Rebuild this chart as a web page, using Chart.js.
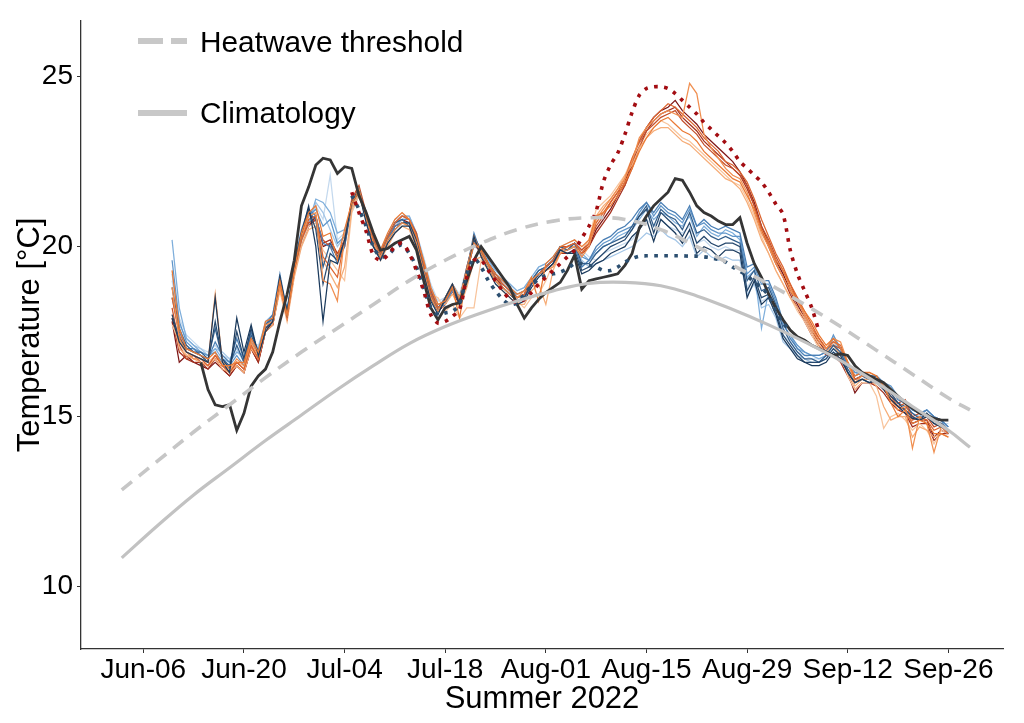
<!DOCTYPE html>
<html>
<head>
<meta charset="utf-8">
<script src="https://cdn.jsdelivr.net/npm/chart.js@4.4.1/dist/chart.umd.min.js"></script>
<style>
html,body{margin:0;padding:0;background:#fff;}
#wrap{width:1024px;height:723px;position:relative;}
</style>
</head>
<body>
<div id="wrap"><canvas id="c" width="1024" height="723"></canvas></div>
<script>
// ---- axis ticks (x = days since Jun-06, 2022) ----
const tickDays = [0, 14, 28, 42, 56, 70, 84, 98, 112];
const tickLabels = ['Jun-06', 'Jun-20', 'Jul-04', 'Jul-18', 'Aug-01', 'Aug-15', 'Aug-29', 'Sep-12', 'Sep-26'];
const yTicks = [10, 15, 20, 25];

// ---- climatology (solid grey) ----
const climDays = [-3, 2, 7, 12, 17, 22, 27, 32, 37, 42, 47, 52, 57, 62, 67, 72, 77, 82, 87, 92, 97, 102, 107, 112, 115];
const climVals = [10.85, 11.8, 12.7, 13.5, 14.3, 15.05, 15.8, 16.5, 17.15, 17.65, 18.05, 18.4, 18.7, 18.92, 18.95, 18.85, 18.55, 18.15, 17.7, 17.2, 16.65, 16.0, 15.3, 14.6, 14.1];

// ---- heatwave threshold (dashed grey) ----
const threshDays = [-3, 2, 7, 12, 17, 22, 27, 32, 37, 42, 47, 52, 57, 62, 67, 72, 77, 82, 87, 92, 97, 102, 107, 112, 115];
const threshVals = [12.85, 13.7, 14.55, 15.35, 16.15, 16.9, 17.6, 18.3, 19.0, 19.6, 20.1, 20.5, 20.75, 20.85, 20.8, 20.5, 20.0, 19.45, 18.9, 18.3, 17.65, 16.95, 16.25, 15.55, 15.2];

// ---- observations (thick dark line), daily from day 8 ----
const obsStart = 8;
const obsVals = [
 16.6, 15.8, 15.35, 15.3, 15.35, 14.6, 15.1, 15.9, 16.2, 16.4,
 16.9, 17.8, 18.6, 19.6, 21.2, 21.75, 22.4, 22.6, 22.55, 22.15,
 22.35, 22.3, 21.5, 21.0, 20.4, 19.9, 19.95, 20.1, 20.2, 20.3,
 19.9, 19.0, 18.2, 17.85, 18.2, 18.3, 18.35, 19.0, 19.6, 20.0,
 19.7, 19.4, 19.1, 18.8, 18.3, 17.9, 18.2, 18.45, 18.65, 18.8,
 18.95, 19.3, 19.75, 18.75, 19.0, 19.05, 19.1, 19.15, 19.2, 19.45,
 19.8, 20.55, 20.9, 21.2, 21.4, 21.6, 22.0, 21.95, 21.6, 21.2,
 21.0, 20.9, 20.75, 20.65, 20.65, 20.85, 20.1, 19.5, 19.1, 18.6,
 18.2, 17.85, 17.55, 17.35, 17.25, 17.1, 17.0, 16.9, 16.8, 16.85,
 16.8, 16.5, 16.3, 16.2, 16.1, 16.0, 15.8, 15.6, 15.4, 15.25,
 15.1, 15.05, 14.95, 14.9, 14.9
];

// ---- dotted means, daily from day 29 ----
const redDotStart = 29;
const redDotVals = [
 21.6, 21.0, 20.45, 19.75, 19.6, 19.75, 20.0, 20.1, 19.8, 19.3,
 18.7, 18.0, 17.75, 17.8, 17.95, 18.15, 19.1, 19.6, 19.6, 19.3,
 19.0, 18.7, 18.45, 18.35, 18.45, 18.65, 18.9, 19.1, 19.3, 19.5,
 19.7, 19.9, 20.25, 20.6, 21.05, 21.9, 22.4, 22.75, 23.3, 23.95,
 24.45, 24.65, 24.7, 24.7, 24.65, 24.5, 24.3, 24.1, 23.9, 23.65,
 23.45, 23.25, 23.05, 22.8, 22.5, 22.3, 22.1, 21.9, 21.6, 21.25,
 20.95, 19.9, 19.2, 18.7, 18.2, 17.5
];
const blueDotStart = 29;
const blueDotVals = [
 21.5, 21.1, 20.6, 20.0, 19.7, 19.75, 19.95, 20.05, 19.8, 19.4,
 18.8, 18.2, 18.0, 18.05, 18.1, 18.3, 19.2, 19.65, 19.4, 19.0,
 18.7, 18.45, 18.3, 18.35, 18.6, 18.85, 19.05, 19.15, 19.2, 19.25,
 19.35, 19.5, 19.5, 19.45, 19.4, 19.3, 19.3, 19.4, 19.55, 19.65,
 19.72, 19.73, 19.73, 19.73, 19.73, 19.73, 19.73, 19.72, 19.72, 19.7,
 19.67, 19.62, 19.55, 19.4, 19.28, 19.15, 18.95, 18.8, 18.55, 18.1,
 17.75, 17.55
];

// ---- ensemble members, daily from day 4 ----
const memberStart = 4;
const blue1 = [
 17.9, 17.2, 16.9, 16.8, 16.7, 16.6, 18.5, 16.6, 16.3, 17.9,
 16.9, 17.7, 16.8, 17.5, 17.8, 19.1, 18.1, 19.4, 20.4, 21.2,
 20.0, 17.8, 19.6, 19.5, 20.2, 21.3, 21.6, 20.7, 20.0, 19.6,
 20.1, 20.4, 20.6, 20.6, 20.0, 19.2, 18.4, 18.0, 18.5, 18.9,
 18.3, 19.1, 20.3, 19.7, 19.3, 18.9, 18.7, 18.5, 18.3, 18.4,
 18.8, 19.1, 19.3, 19.5, 19.9, 19.8, 19.8, 19.2, 19.3, 19.5,
 19.6, 19.8, 19.9, 20.0, 20.3, 20.5, 20.8, 20.15, 20.8, 20.6,
 20.4, 20.1, 20.5, 19.8, 20.0, 19.9, 19.7, 19.9, 19.9, 19.8,
 18.5, 19.0, 18.3, 18.5, 18.0, 17.3, 17.0, 16.7, 16.6, 16.5,
 16.5, 16.6, 16.9, 16.7, 16.3, 16.0, 16.1, 16.0, 16.05, 15.8,
 15.5, 15.3, 15.1, 14.95, 14.9, 15.0, 14.8, 14.7, 14.6
];
const blue2 = [
 18.8, 17.6, 17.1, 16.9, 16.9, 16.7, 17.6, 16.7, 16.5, 17.1,
 16.6, 17.4, 16.9, 17.7, 17.9, 19.0, 18.0, 19.5, 20.4, 21.0,
 20.8, 19.4, 20.1, 19.7, 20.1, 21.3, 21.7, 20.9, 20.2, 19.8,
 20.3, 20.7, 20.8, 20.6, 20.3, 19.5, 18.6, 18.2, 18.5, 18.9,
 18.5, 19.3, 20.3, 19.9, 19.5, 19.2, 19.0, 18.8, 18.5, 18.6,
 19.0, 19.3, 19.4, 19.6, 20.0, 19.9, 20.1, 19.5, 19.5, 19.8,
 20.0, 20.1, 20.2, 20.3, 20.6, 20.9, 21.2, 20.6, 21.1, 20.9,
 20.8, 20.5, 21.0, 20.4, 20.5, 20.3, 20.2, 20.3, 20.2, 20.1,
 19.0, 19.3, 18.7, 18.8, 18.3, 17.6, 17.2, 16.9, 16.7, 16.7,
 16.6, 16.8, 17.1, 16.9, 16.4, 16.1, 16.2, 16.1, 16.2, 15.9,
 15.7, 15.4, 15.3, 15.1, 14.95, 15.1, 14.9, 14.8, 14.6
];
const blue3 = [
 19.6, 17.8, 17.2, 17.0, 16.9, 16.8, 16.9, 16.6, 16.5, 16.8,
 16.5, 17.2, 16.9, 17.6, 17.9, 19.0, 18.1, 19.4, 20.3, 20.9,
 21.1, 20.6, 20.8, 20.1, 20.3, 21.2, 21.6, 20.8, 20.2, 19.8,
 20.2, 20.7, 20.8, 20.8, 20.3, 19.5, 18.7, 18.2, 18.3, 18.7,
 18.4, 19.4, 20.2, 19.9, 19.5, 19.2, 19.0, 18.8, 18.6, 18.7,
 19.0, 19.3, 19.4, 19.6, 20.0, 20.0, 20.1, 19.7, 19.6, 19.9,
 20.1, 20.2, 20.4, 20.5, 20.6, 21.0, 21.3, 20.9, 21.2, 21.0,
 20.9, 20.7, 21.1, 20.6, 20.7, 20.5, 20.4, 20.4, 20.3, 20.3,
 19.2, 19.4, 18.9, 18.9, 18.4, 17.7, 17.4, 17.1, 16.9, 16.8,
 16.8, 16.9, 17.4, 17.0, 16.6, 16.3, 16.3, 16.2, 16.2, 16.0,
 15.9, 15.6, 15.4, 15.2, 15.1, 15.2, 15.0, 14.9, 14.5
];
const blue4 = [
 20.2, 18.2, 17.3, 17.1, 16.9, 16.8, 17.0, 16.7, 16.6, 16.9,
 16.8, 17.3, 17.0, 17.8, 18.0, 18.9, 18.2, 19.3, 20.1, 20.7,
 21.4, 21.3, 21.0, 20.4, 20.5, 21.1, 21.5, 20.9, 20.3, 19.9,
 20.3, 20.7, 20.9, 20.9, 20.4, 19.6, 18.8, 18.3, 18.4, 18.8,
 18.5, 19.3, 20.1, 19.9, 19.6, 19.3, 19.1, 18.9, 18.7, 18.8,
 19.1, 19.4, 19.5, 19.7, 20.0, 20.0, 20.1, 19.8, 19.6, 19.8,
 20.0, 20.1, 20.3, 20.4, 20.5, 20.8, 21.1, 20.8, 21.0, 20.9,
 20.7, 20.6, 20.9, 20.3, 20.6, 20.4, 20.3, 20.5, 20.4, 20.2,
 19.1, 19.3, 17.6, 18.7, 18.1, 17.5, 17.4, 17.0, 16.9, 16.8,
 16.7, 16.8, 17.2, 17.0, 16.5, 16.3, 16.2, 16.2, 16.1, 15.9,
 15.8, 15.6, 15.4, 15.1, 15.0, 15.2, 15.0, 14.9, 14.7
];
const blue5 = [
 19.0, 17.9, 17.4, 17.2, 17.0, 16.9, 17.1, 16.8, 16.7, 16.9,
 16.7, 17.2, 17.1, 17.7, 17.9, 18.8, 18.2, 19.2, 20.0, 20.6,
 21.2, 20.8, 22.1, 20.2, 20.4, 21.0, 21.5, 21.0, 20.3, 19.9,
 20.4, 20.8, 20.9, 20.9, 20.4, 19.7, 18.9, 18.4, 18.5, 18.9,
 18.6, 19.4, 20.2, 20.0, 19.6, 19.3, 19.1, 18.9, 18.7, 18.8,
 19.1, 19.4, 19.5, 19.7, 20.0, 20.1, 20.2, 19.9, 19.7, 19.6,
 19.8, 19.9, 20.0, 20.1, 20.2, 20.5, 20.8, 20.6, 20.8, 20.6,
 20.5, 20.4, 20.6, 20.1, 20.2, 20.0, 19.9, 20.0, 19.9, 19.9,
 18.8, 19.1, 18.4, 18.5, 18.0, 17.4, 17.2, 16.9, 16.8, 16.7,
 16.7, 16.8, 17.0, 16.9, 16.4, 16.1, 16.1, 16.1, 16.1, 15.8,
 15.6, 15.4, 15.2, 15.0, 14.9, 15.1, 14.9, 14.8, 14.8
];
const blue6 = [
 18.5, 17.5, 17.0, 17.0, 16.8, 16.7, 17.2, 16.8, 16.6, 17.3,
 16.7, 17.5, 16.9, 17.7, 18.0, 19.2, 18.1, 19.5, 20.5, 21.1,
 20.9, 20.1, 20.0, 19.5, 20.0, 21.2, 21.7, 20.8, 20.1, 19.7,
 20.2, 20.6, 20.7, 20.7, 20.1, 19.3, 18.6, 18.1, 18.4, 18.8,
 18.4, 19.3, 20.4, 19.8, 19.4, 19.1, 18.9, 18.7, 18.4, 18.5,
 18.9, 19.2, 19.4, 19.6, 19.9, 19.9, 20.0, 19.4, 19.6, 20.0,
 20.2, 20.3, 20.5, 20.6, 20.8, 21.1, 21.3, 21.0, 21.3, 21.1,
 21.0, 20.8, 21.2, 20.6, 20.8, 20.6, 20.5, 20.6, 20.5, 20.4,
 19.4, 19.5, 19.0, 19.0, 18.5, 17.8, 17.3, 17.0, 16.8, 16.8,
 16.8, 16.9, 17.3, 17.0, 16.5, 16.2, 16.3, 16.2, 16.2, 16.0,
 15.8, 15.5, 15.4, 15.2, 15.1, 15.2, 15.0, 14.9, 14.7
];
const blue7 = [
 19.2, 17.7, 17.3, 17.1, 17.0, 16.8, 17.0, 16.9, 16.7, 17.0,
 16.6, 17.3, 17.0, 17.6, 17.9, 18.8, 18.1, 19.3, 20.1, 20.6,
 21.3, 21.0, 20.5, 20.0, 20.3, 21.1, 21.6, 20.9, 20.3, 19.8,
 20.3, 20.6, 20.8, 20.8, 20.3, 19.5, 18.8, 18.3, 18.4, 18.8,
 18.5, 19.3, 20.0, 19.9, 19.6, 19.2, 19.0, 18.8, 18.6, 18.7,
 19.0, 19.3, 19.4, 19.6, 19.9, 20.0, 20.1, 19.6, 19.4, 19.5,
 19.6, 19.7, 19.8, 19.9, 20.0, 20.2, 20.4, 20.3, 20.5, 20.3,
 20.2, 20.0, 20.3, 19.7, 19.9, 19.7, 19.6, 19.7, 19.6, 19.6,
 18.6, 18.9, 18.2, 18.3, 17.9, 17.2, 17.0, 16.8, 16.7, 16.6,
 16.6, 16.7, 16.9, 16.8, 16.3, 16.0, 16.1, 16.1, 16.0, 15.8,
 15.6, 15.4, 15.2, 15.0, 14.9, 15.0, 14.9, 14.8, 14.7
];
const blue8 = [
 18.0, 17.3, 17.0, 16.9, 16.8, 16.6, 17.8, 16.7, 16.4, 17.5,
 16.7, 17.6, 16.8, 17.6, 17.8, 19.1, 18.0, 19.4, 20.3, 21.1,
 20.5, 18.9, 19.8, 19.6, 20.1, 21.3, 21.7, 20.8, 20.0, 19.7,
 20.2, 20.5, 20.7, 20.7, 20.2, 19.3, 18.5, 18.1, 18.4, 18.8,
 18.3, 19.2, 20.2, 19.8, 19.4, 19.0, 18.8, 18.6, 18.4, 18.5,
 18.9, 19.2, 19.3, 19.5, 19.9, 19.8, 19.9, 19.3, 19.4, 19.6,
 19.8, 20.0, 20.1, 20.2, 20.5, 20.9, 21.1, 20.4, 21.0, 20.8,
 20.6, 20.3, 20.7, 20.1, 20.3, 20.1, 20.0, 20.1, 20.1, 20.0,
 18.7, 19.1, 18.5, 18.6, 18.1, 17.4, 17.1, 16.8, 16.6, 16.6,
 16.6, 16.7, 17.0, 16.8, 16.3, 16.0, 16.1, 16.0, 16.1, 15.9,
 15.6, 15.4, 15.2, 15.0, 14.9, 15.1, 14.8, 14.8, 14.6
];
const orange1 = [
 17.8, 16.6, 16.8, 16.6, 16.5, 16.4, 16.6, 16.4, 16.2, 16.5,
 16.3, 17.0, 16.6, 17.5, 17.7, 18.8, 17.9, 19.2, 20.1, 20.6,
 20.9, 20.0, 20.1, 19.7, 20.0, 21.3, 21.7, 20.9, 20.2, 19.7,
 20.2, 20.6, 20.8, 20.7, 20.2, 19.4, 18.5, 18.1, 18.3, 18.7,
 18.3, 19.2, 20.1, 19.8, 19.4, 19.1, 18.8, 18.6, 18.4, 18.5,
 18.9, 19.2, 19.3, 19.5, 19.8, 19.8, 19.9, 19.8, 20.0, 20.5,
 20.8, 21.1, 21.5, 21.9, 22.5, 23.1, 23.5, 23.8, 24.0, 24.1,
 24.3, 24.0, 23.8, 23.6, 23.3, 23.1, 22.9, 22.7, 22.5, 22.2,
 21.8, 21.3, 20.6, 20.1, 19.6, 19.2, 18.7, 18.3, 17.9, 17.5,
 17.2, 16.9, 16.8, 16.7, 16.3, 15.7, 16.0, 16.0, 16.0, 15.8,
 15.5, 15.3, 15.2, 14.8, 14.9, 14.9, 14.4, 14.6, 14.5
];
const orange2 = [
 18.2, 17.1, 16.7, 16.8, 16.6, 16.5, 16.8, 16.5, 16.3, 16.6,
 16.4, 17.1, 16.7, 17.6, 17.7, 18.9, 17.9, 19.3, 20.2, 20.7,
 20.8, 20.2, 20.0, 19.8, 20.2, 21.4, 21.8, 21.0, 20.3, 19.8,
 20.3, 20.7, 20.9, 20.8, 20.4, 19.5, 18.7, 18.2, 18.4, 18.8,
 18.4, 19.4, 20.2, 19.9, 19.5, 19.2, 18.9, 18.7, 18.5, 18.6,
 19.0, 19.2, 19.4, 19.6, 20.0, 20.0, 20.1, 19.9, 20.1, 20.6,
 20.9, 21.3, 21.6, 21.8, 22.3, 22.9, 23.4, 23.6, 23.8, 23.9,
 24.0, 23.7, 23.5, 23.3, 23.0, 22.8, 22.6, 22.4, 22.3, 22.1,
 21.8, 21.2, 20.6, 20.2, 19.7, 19.3, 18.9, 18.4, 18.0, 17.6,
 17.3, 17.0, 17.1, 17.0, 16.6, 16.1, 16.2, 16.1, 16.0, 15.9,
 15.7, 15.4, 15.5, 15.0, 15.1, 15.0, 14.7, 14.8, 14.6
];
const orange3 = [
 18.8, 17.3, 16.9, 16.7, 16.7, 16.6, 18.6, 16.6, 16.4, 16.7,
 16.5, 17.2, 16.8, 17.7, 17.8, 18.8, 18.0, 19.4, 20.3, 20.9,
 21.0, 19.0, 18.9, 18.4, 20.3, 21.2, 21.7, 20.8, 20.1, 19.7,
 20.2, 20.5, 20.7, 20.6, 20.1, 19.3, 18.5, 18.1, 18.5, 18.9,
 18.5, 19.3, 20.3, 19.8, 19.4, 19.0, 18.8, 18.6, 18.5, 18.7,
 19.0, 19.2, 19.3, 19.4, 19.8, 19.9, 20.0, 19.7, 20.0, 20.8,
 21.1, 21.4, 21.7, 22.0, 22.5, 23.2, 23.5, 23.7, 23.9, 24.0,
 23.9, 23.8, 24.8, 24.5, 23.3, 22.9, 22.6, 22.3, 22.1, 22.0,
 21.6, 21.0, 20.4, 20.0, 19.5, 19.1, 18.7, 18.4, 18.0, 17.6,
 17.2, 17.0, 17.3, 17.2, 16.6, 16.0, 16.2, 16.3, 16.2, 15.9,
 15.5, 15.2, 15.3, 14.07, 15.0, 14.8, 13.95, 14.7, 14.6
];
const orange4 = [
 19.3, 17.6, 17.0, 16.9, 16.8, 16.7, 16.9, 16.5, 16.5, 16.6,
 16.6, 17.3, 16.9, 17.8, 17.9, 19.0, 18.0, 19.3, 20.4, 21.0,
 21.2, 20.3, 20.4, 19.6, 20.5, 21.3, 21.6, 20.9, 20.4, 19.9,
 20.4, 20.8, 21.0, 20.8, 20.3, 19.6, 18.8, 18.3, 18.4, 18.8,
 17.9, 19.2, 20.1, 19.9, 19.5, 19.2, 19.0, 18.8, 18.6, 18.7,
 19.1, 18.4, 19.5, 19.7, 20.0, 20.1, 20.2, 20.0, 20.2, 20.9,
 21.0, 21.2, 21.5, 21.9, 22.3, 22.8, 23.2, 23.5, 23.7, 23.8,
 23.6, 23.4, 23.3, 23.1, 22.8, 22.6, 22.4, 22.2, 22.0, 21.9,
 21.5, 21.1, 20.5, 20.1, 19.6, 19.3, 18.8, 18.4, 18.1, 17.8,
 17.4, 17.1, 17.3, 17.0, 16.6, 16.2, 16.3, 16.3, 16.2, 15.9,
 15.4, 15.0, 15.2, 14.8, 14.9, 14.8, 14.5, 14.5, 14.4
];
const orange5 = [
 17.7, 17.2, 16.8, 16.8, 16.7, 16.6, 16.8, 16.5, 16.4, 16.6,
 16.5, 17.2, 16.8, 17.6, 17.8, 18.8, 18.0, 19.2, 20.1, 20.6,
 20.7, 19.9, 19.6, 19.3, 19.0, 21.0, 21.5, 20.8, 20.2, 19.7,
 20.1, 20.5, 20.7, 20.6, 20.1, 19.4, 18.6, 18.5, 18.1, 18.3,
 17.9, 18.2, 18.2, 19.6, 19.3, 19.0, 18.8, 18.6, 18.4, 18.2,
 18.5, 18.6, 19.0, 19.5, 19.9, 20.0, 20.0, 19.9, 20.2, 21.1,
 21.3, 21.5, 21.8, 22.1, 22.6, 23.0, 23.3, 23.5, 23.7, 23.6,
 23.4, 23.2, 23.1, 22.9, 22.7, 22.5, 22.3, 22.1, 21.9, 21.8,
 21.4, 20.9, 20.3, 19.8, 19.3, 18.9, 18.5, 18.1, 17.8, 17.4,
 17.0, 16.9, 17.2, 16.8, 16.2, 15.8, 16.0, 16.0, 15.6, 14.66,
 15.0, 15.1, 14.9, 14.6, 14.8, 14.6, 14.2, 14.6, 14.5
];
const orange6 = [
 18.5, 17.4, 16.9, 16.8, 16.7, 16.5, 16.8, 16.5, 16.3, 16.6,
 16.4, 17.1, 16.7, 17.6, 17.8, 18.9, 17.9, 19.3, 20.2, 20.8,
 20.9, 19.7, 19.4, 19.1, 20.2, 21.3, 21.7, 20.9, 20.2, 19.8,
 20.3, 20.7, 20.9, 20.8, 20.3, 19.5, 18.6, 18.2, 18.4, 18.8,
 18.4, 19.3, 20.2, 19.9, 19.5, 19.1, 18.9, 18.7, 18.5, 18.6,
 19.0, 19.2, 19.4, 19.6, 19.9, 20.0, 20.1, 19.8, 20.1, 20.7,
 21.0, 21.3, 21.6, 22.0, 22.6, 23.1, 23.5, 23.8, 24.0, 24.2,
 24.1, 23.9, 23.7, 23.5, 23.2, 23.0, 22.8, 22.5, 22.4, 22.2,
 21.9, 21.4, 20.8, 20.3, 19.8, 19.4, 18.9, 18.5, 18.1, 17.7,
 17.3, 17.0, 17.2, 17.1, 16.6, 16.1, 16.2, 16.2, 16.1, 15.9,
 15.6, 15.3, 15.4, 14.9, 15.0, 14.9, 14.6, 14.7, 14.5
];
const orange7 = [
 18.0, 17.0, 16.8, 16.7, 16.6, 16.5, 16.7, 16.4, 16.3, 16.5,
 16.3, 17.0, 16.7, 17.5, 17.7, 18.7, 17.8, 19.1, 20.0, 20.5,
 20.6, 19.6, 19.2, 18.8, 19.4, 21.1, 21.6, 20.8, 20.1, 19.6,
 20.0, 20.4, 20.6, 20.5, 20.0, 19.2, 18.5, 18.3, 18.3, 18.6,
 18.2, 18.8, 19.6, 19.7, 19.3, 19.0, 18.7, 18.5, 18.3, 18.3,
 18.7, 18.9, 18.3, 19.3, 19.8, 20.0, 20.0, 19.8, 20.1, 20.9,
 21.2, 21.4, 21.7, 22.1, 22.4, 22.9, 23.2, 23.4, 23.5, 23.5,
 23.3, 23.1, 23.0, 22.8, 22.6, 22.4, 22.2, 22.0, 21.9, 21.7,
 21.3, 20.8, 20.2, 19.8, 19.3, 18.9, 18.5, 18.2, 17.9, 17.5,
 17.1, 16.9, 17.1, 16.8, 16.3, 15.9, 16.1, 16.1, 15.9, 15.3,
 14.9, 15.0, 15.0, 14.4, 14.7, 14.6, 14.4, 14.5, 14.4
];
const orange8 = [
 17.9, 16.9, 16.7, 16.6, 16.6, 16.4, 16.7, 16.4, 16.2, 16.5,
 16.3, 17.0, 16.6, 17.5, 17.7, 18.8, 17.9, 19.2, 20.1, 20.6,
 20.8, 20.1, 20.2, 19.8, 20.1, 21.3, 21.7, 20.9, 20.2, 19.7,
 20.2, 20.6, 20.7, 20.7, 20.2, 19.4, 18.5, 18.1, 18.3, 18.7,
 18.3, 19.2, 20.1, 19.8, 19.4, 19.1, 18.8, 18.6, 18.4, 18.5,
 18.9, 19.2, 19.3, 19.5, 19.8, 19.8, 19.9, 19.8, 20.0, 20.4,
 20.7, 21.0, 21.4, 21.8, 22.4, 23.0, 23.4, 23.7, 23.9, 24.0,
 24.1, 23.8, 23.6, 23.4, 23.1, 22.9, 22.7, 22.5, 22.3, 22.1,
 21.7, 21.2, 20.5, 20.0, 19.5, 19.1, 18.6, 18.2, 17.8, 17.4,
 17.1, 16.8, 16.8, 16.6, 16.2, 15.8, 16.0, 16.0, 15.9, 15.7,
 15.4, 15.2, 15.1, 14.7, 14.8, 14.8, 14.3, 14.5, 14.5
];

// drawing order: first entry is drawn on top
const blueMembers = [blue1, blue8, blue2, blue6, blue3, blue4, blue7, blue5];
const orangeMembers = [orange4, orange3, orange6, orange7, orange2, orange5, orange8, orange1];
const blueColors = ['#1b3a5c', '#27496e', '#335f8c', '#4a7fb5', '#5f95c9', '#7eaedb', '#a3c5e6', '#c4d9ee'];
const orangeColors = ['#ea7a35', '#f08f50', '#dc6530', '#f6ad78', '#c4502c', '#f8c49c', '#a3301f', '#7d1616'];

function daily(start, vals) { return vals.map((v, i) => ({ x: start + i, y: v })); }
function paired(xs, ys) { return xs.map((x, i) => ({ x: x, y: ys[i] })); }

const FONT = '"Liberation Sans", Arial, Helvetica, sans-serif';
const datasets = [];
datasets.push({ data: paired(climDays, climVals), borderColor: '#c2c2c2', borderWidth: 3.2, tension: 0.4, order: 0 });
datasets.push({ data: paired(threshDays, threshVals), borderColor: '#c6c6c6', borderWidth: 3.6, borderDash: [13, 9], tension: 0.4, order: 0 });
datasets.push({ data: daily(redDotStart, redDotVals), borderColor: '#a30d12', borderWidth: 3.6, borderDash: [3.6, 6.4], borderCapStyle: 'butt', tension: 0.3, order: 1 });
datasets.push({ data: daily(blueDotStart, blueDotVals), borderColor: '#2c4f70', borderWidth: 3.6, borderDash: [3.6, 6.4], borderCapStyle: 'butt', tension: 0.3, order: 1 });
datasets.push({ data: daily(obsStart, obsVals), borderColor: '#353535', borderWidth: 2.8, tension: 0, order: 2 });
for (let k = 0; k < 8; k++) {
  datasets.push({ data: daily(memberStart, orangeMembers[k]), borderColor: orangeColors[k], borderWidth: 1.25, tension: 0, order: 3 + 2 * k });
  datasets.push({ data: daily(memberStart, blueMembers[k]), borderColor: blueColors[k], borderWidth: 1.25, tension: 0, order: 4 + 2 * k });
}

const legendPlugin = {
  id: 'customLegend',
  afterDraw(chart) {
    const ctx = chart.ctx;
    ctx.save();
    ctx.strokeStyle = '#c8c8c8';
    ctx.lineWidth = 6;
    ctx.lineCap = 'butt';
    ctx.setLineDash([25, 8]);
    ctx.beginPath(); ctx.moveTo(138, 41); ctx.lineTo(187, 41); ctx.stroke();
    ctx.setLineDash([]);
    ctx.beginPath(); ctx.moveTo(138, 113); ctx.lineTo(187, 113); ctx.stroke();
    ctx.fillStyle = '#000';
    ctx.font = '29.8px ' + FONT;
    ctx.textBaseline = 'alphabetic';
    ctx.textAlign = 'left';
    ctx.fillText('Heatwave threshold', 200, 52);
    ctx.fillText('Climatology', 200, 123);
    ctx.restore();
  }
};

new Chart(document.getElementById('c'), {
  type: 'line',
  data: { datasets: datasets },
  plugins: [legendPlugin],
  options: {
    responsive: false,
    animation: false,
    devicePixelRatio: 1,
    layout: { padding: { left: 0, right: 21, top: 16, bottom: 0 } },
    elements: { point: { radius: 0 }, line: { fill: false } },
    plugins: { legend: { display: false }, tooltip: { enabled: false } },
    scales: {
      x: {
        type: 'linear', min: -8.67, max: 119.6,
        afterBuildTicks(s) { s.ticks = tickDays.map(v => ({ value: v })); },
        afterFit(s) { s.height = 74; },
        ticks: { callback: (v) => tickLabels[tickDays.indexOf(v)], color: '#000', font: { family: FONT, size: 28 }, padding: 0, maxRotation: 0, autoSkip: false },
        grid: { drawOnChartArea: false, drawTicks: true, tickLength: 4, color: '#333', lineWidth: 1 },
        border: { display: true, color: '#333', width: 1.3 },
        title: { display: true, text: 'Summer 2022', color: '#000', font: { family: FONT, size: 31 }, padding: { top: 0, bottom: 5 } }
      },
      y: {
        type: 'linear', min: 8.17, max: 26.64,
        afterBuildTicks(s) { s.ticks = yTicks.map(v => ({ value: v })); },
        afterFit(s) { s.width = 81; },
        ticks: { color: '#000', font: { family: FONT, size: 28 }, padding: 4 },
        grid: { drawOnChartArea: false, drawTicks: true, tickLength: 4, color: '#333', lineWidth: 1 },
        border: { display: true, color: '#333', width: 1.3 },
        title: { display: true, text: 'Temperature [°C]', color: '#000', font: { family: FONT, size: 31 }, padding: { top: 12, bottom: 0 } }
      }
    }
  }
});
</script>
</body>
</html>
